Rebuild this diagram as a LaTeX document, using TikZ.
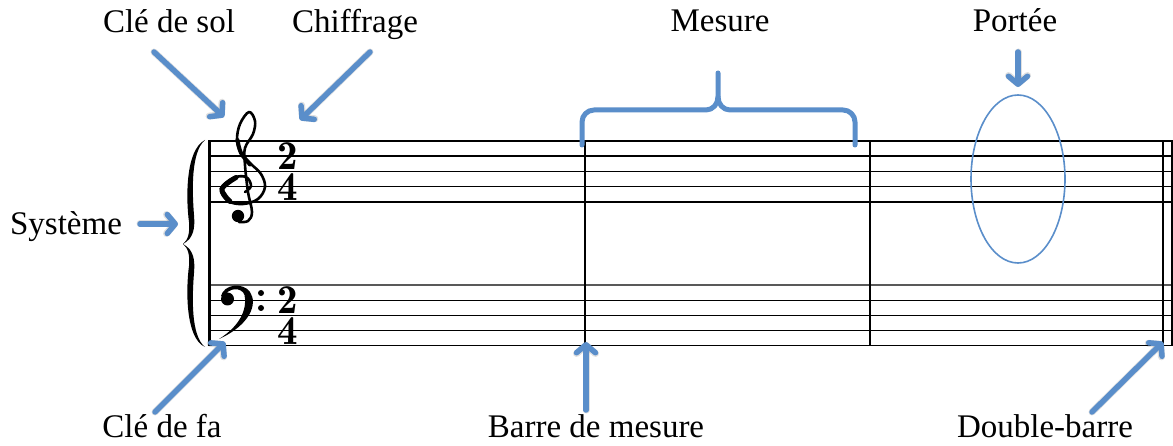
\documentclass[tikz,border=0pt]{standalone}
\usepackage{fontspec}
\setmainfont{Liberation Serif}
\usetikzlibrary{arrows.meta}
\definecolor{ablue}{RGB}{90,142,202}
\tikzset{
  lbl/.style={font=\fontsize{33}{36}\selectfont, inner sep=0pt, anchor=base},
  tsig/.style={font=\fontfamily{lmr}\bfseries\fontsize{41}{30.5}\selectfont, inner sep=0pt, anchor=center, align=center},
  barrow/.style={draw=ablue, line width=5.5pt, line cap=round,
    -{Straight Barb[length=8pt,width=19pt,line width=5.5pt,round]}},
  shadarrow/.style={draw=black, opacity=0.12, line width=7pt, line cap=round,
    -{Straight Barb[length=8pt,width=19pt,line width=7pt,round]}},
  staffline/.style={line width=1.8pt},
  barline/.style={line width=2.5pt},
  bluebrace/.style={draw=ablue, line width=5pt, line cap=round, line join=round},
}
\begin{document}
\begin{tikzpicture}[x=1pt,y=-1pt]
\useasboundingbox (0,0) rectangle (1173,446);

% staff lines
\foreach \yy in {141,156,171.5,186.5,202,315.5,330.5,345.5}
  \draw[staffline] (209,\yy) -- (1172,\yy);
\draw[staffline, black!65] (209,285) -- (1172,285);
\draw[staffline] (209,300.5) -- (1172,300.5);

% bar lines
\draw[line width=3pt] (209,140.2) -- (209,346.3);
\draw[barline] (585,140.2) -- (585,346.3);
\draw[barline] (870,140.2) -- (870,346.3);
\draw[line width=2.8pt] (1163,140.2) -- (1163,346.3);
\draw[line width=2pt] (1172,140.2) -- (1172,346.3);

% system brace
\fill (205,140) .. controls (185,150) and (186,200) .. (189,222)
  .. controls (190,233) and (188,240) .. (183,244)
  .. controls (194,238) and (195,228) .. (194,215)
  .. controls (192,190) and (191,152) .. (205,140) -- cycle;
\fill (183,244) .. controls (188,248) and (190,255) .. (189,266)
  .. controls (186,288) and (185,338) .. (205,347)
  .. controls (191,336) and (192,298) .. (194,273)
  .. controls (195,260) and (194,250) .. (183,244) -- cycle;

% treble clef
\draw[line width=2.6pt, line cap=round, line join=round] plot[smooth, tension=0.6] coordinates {
  (245,192) (251,186) (246,177) (233,178) (221,189) (228,201) (243,204)
  (258,199) (265,187) (261,174) (251,164) (241,153) (237,140) (240,124)
  (249,112) (255,121) (253,134) (245,148) (245,165) (248,192) (252,212)
  (248,221) (239,222)};
\draw[line width=5pt, line cap=round] plot[smooth, tension=0.6] coordinates {(236,177.5) (222,189) (230,201.5)};
\draw[line width=4pt, line cap=round] plot[smooth, tension=0.6] coordinates {(250,164.5) (241,153) (237.5,140)};
\fill (238,216) circle (6.2);

% bass clef
\fill (221,296) .. controls (224,284) and (243,282) .. (250,292)
  .. controls (258,304) and (250,325) .. (219,339)
  .. controls (243,324) and (247,306) .. (244.5,295)
  .. controls (242,287) and (228,287) .. (224,297) -- cycle;
\fill (227.5,299) circle (6.5);
\fill (261,293) circle (3);
\fill (261,308) circle (3);

% time signatures
\node[tsig] (tsT) at (288,171.5) {2\\4};
\node[tsig] (tsB) at (288,315.5) {2\\4};

% labels
\node[lbl] (lsol) at (169,33) {Clé de sol};
\node[lbl] (lchi) at (355,33) {Chiffrage};
\node[lbl] (lmes) at (720,32) {Mesure};
\node[lbl] (lpor) at (1015,32) {Portée};
\node[lbl] (lsys) at (66,235) {Système};
\node[lbl] (lfa) at (162,437) {Clé de fa};
\node[lbl] (lbar) at (596,437) {Barre de mesure};
\node[lbl] (ldbl) at (1045,437) {Double-barre};

% arrow end points
\coordinate (solT) at (154,52);   \coordinate (solH) at (224,117);
\coordinate (chiT) at (370,52);   \coordinate (chiH) at (300,120);
\coordinate (sysT) at (140,224);  \coordinate (sysH) at (178,224);
\coordinate (faT) at (155,412);   \coordinate (faH) at (225,342);
\coordinate (barT) at (586,410);  \coordinate (barH) at (586,342);
\coordinate (dblT) at (1092,412); \coordinate (dblH) at (1163,342);
\coordinate (porT) at (1018,52);  \coordinate (porH) at (1018,87);

\begin{scope}[shift={(1.5,2.5)}]
\foreach \a in {sol,chi,sys,fa,bar,dbl,por}
  \draw[shadarrow] (\a T) -- (\a H);
\end{scope}
\foreach \a in {sol,chi,sys,fa,bar,dbl,por}
  \draw[barrow] (\a T) -- (\a H);

% measure brace
\draw[bluebrace] (582,145) -- (582,122) to[out=90,in=180] (594,110) -- (706,110)
  to[out=0,in=-90] (718,97) -- (718,73);
\draw[bluebrace] (718,97) to[out=-90,in=180] (730,110) -- (843,110)
  to[out=0,in=90] (855,122) -- (855,145);

% staff ellipse
\draw[ablue, line width=1.6pt] (1018,179) ellipse [x radius=47, y radius=84];
\end{tikzpicture}
\end{document}
